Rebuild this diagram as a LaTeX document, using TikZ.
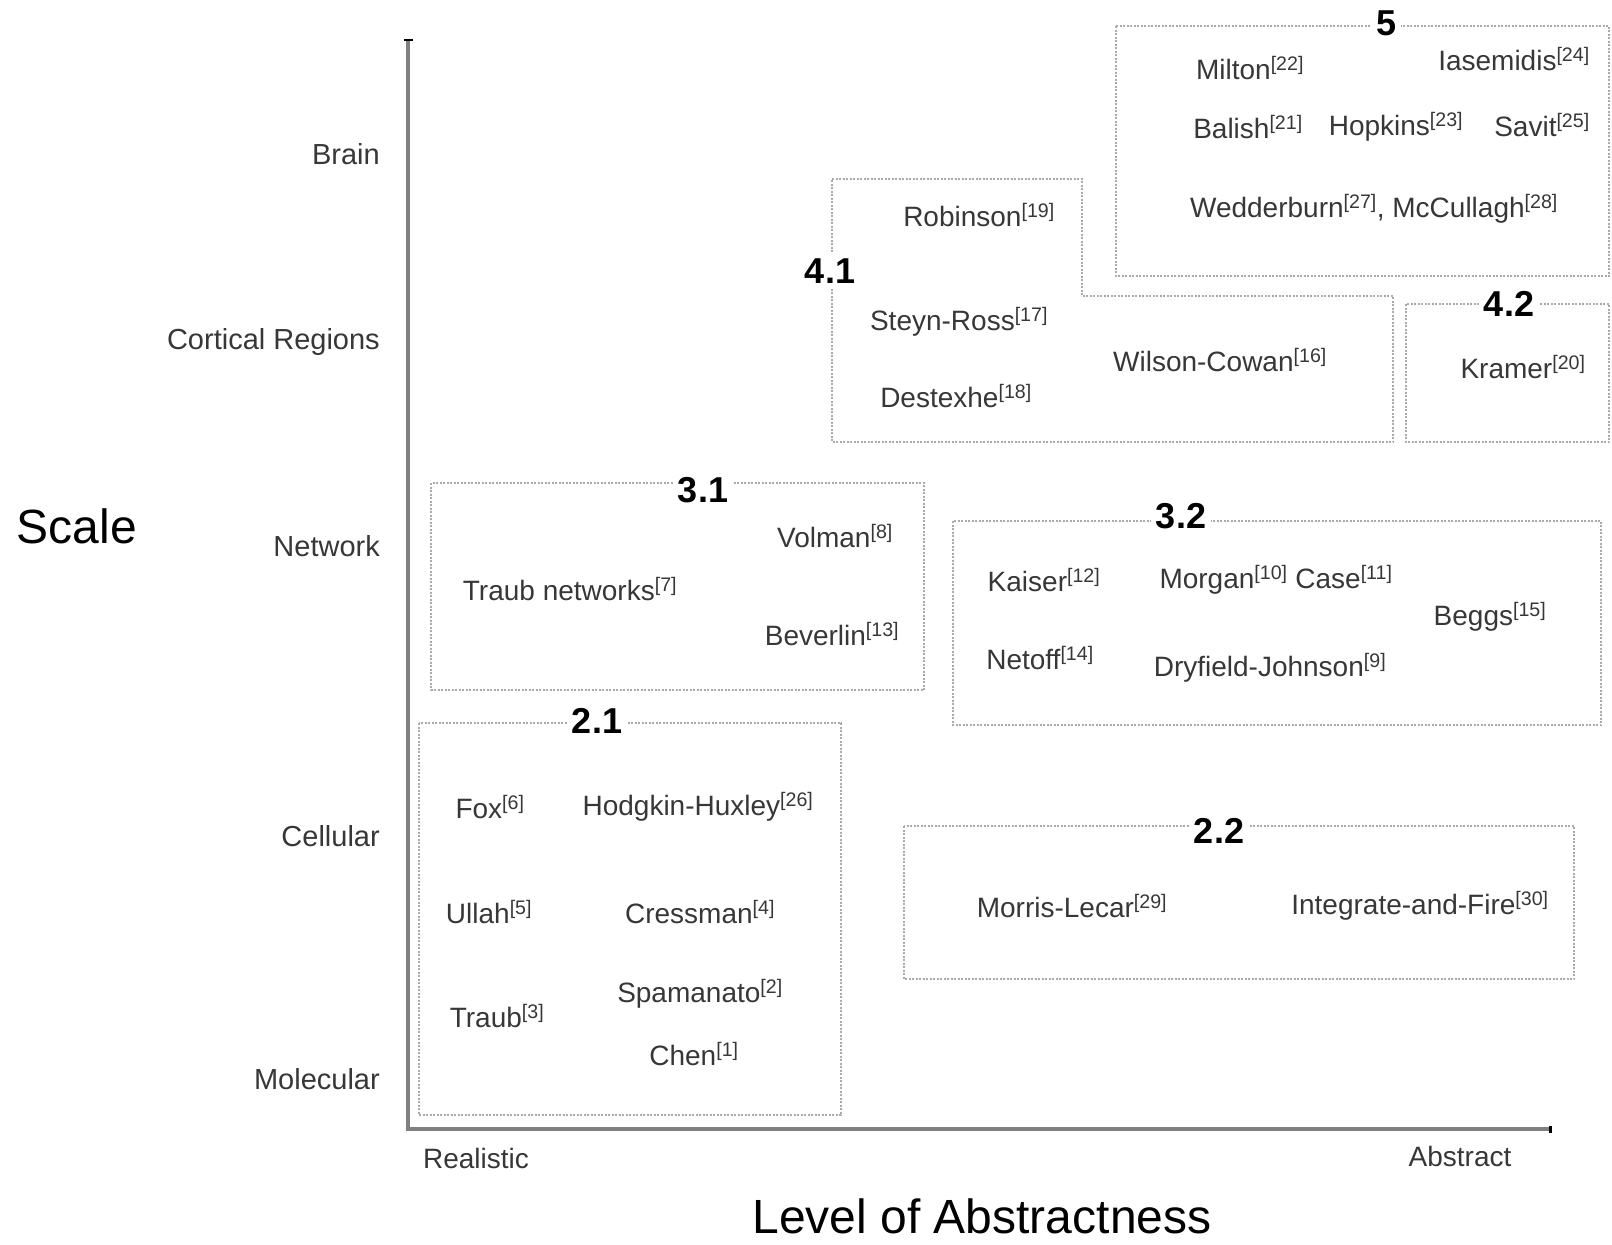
\documentclass[tikz,border=0pt]{standalone}
\usepackage{fontspec}
\setmainfont{Liberation Sans}
\usetikzlibrary{arrows.meta}
\definecolor{axisgray}{RGB}{128,128,128}
\definecolor{boxgray}{RGB}{170,170,170}
\definecolor{textgray}{RGB}{55,55,55}
\newcommand{\citeno}[1]{\textsuperscript{[#1]}}

\begin{document}
\begin{tikzpicture}[x=1pt, y=-1pt,
    lvl/.style={anchor=east, text=textgray, inner sep=0pt, font=\fontsize{29}{30}\selectfont},
    ref/.style={text=textgray, inner sep=0pt, font=\fontsize{28}{30}\selectfont},
    tag/.style={fill=white, inner sep=5pt, font=\bfseries\fontsize{36}{38}\selectfont},
    big/.style={inner sep=0pt, font=\fontsize{48}{50}\selectfont},
    region/.style={draw=boxgray, line width=2pt, dash pattern=on 2pt off 1.5pt},
    axis/.style={draw=axisgray, line width=4pt}]
      \useasboundingbox (0, 0) rectangle (1612, 1245);

      \coordinate (top) at (408, 39);
      \coordinate (origin) at (408, 1129);
      \coordinate (right) at (1552, 1129);
      \draw[axis, {Rectangle[black, length=2pt, width=9pt]}-{Rectangle[black, length=3pt, width=7pt]}] (top) -- (origin) -- (right);

      \node[lvl] (brain) at (380, 154) {Brain};
      \node[lvl] (cortical) at (380, 342) {Cortical Regions};
      \node[lvl] (network) at (380, 546) {Network};
      \node[lvl] (cellular) at (380, 836) {Cellular};
      \node[lvl] (molecular) at (380, 1079) {Molecular};
      \node[big] (scale) at (77, 526) {Scale};
      \node[ref] (realistic) at (476, 1158) {Realistic};
      \node[ref] (abstract) at (1460, 1156) {Abstract};
      \node[big] (abstractness) at (982, 1216) {Level of Abstractness};

      \draw[region] (1116, 26) rectangle (1609, 276);
      \draw[region] (832, 179) -- (1082, 179) -- (1082, 296) -- (1393, 296) -- (1393, 442) -- (832, 442) -- cycle;
      \draw[region] (1406, 304) rectangle (1609, 442);
      \draw[region] (431, 483) rectangle (924, 690);
      \draw[region] (953, 521) rectangle (1601, 725);
      \draw[region] (419, 723) rectangle (841, 1115);
      \draw[region] (904, 826) rectangle (1574, 979);

      \node[tag] (t5) at (1386, 23) {5};
      \node[tag] (t41) at (830, 271) {4.1};
      \node[tag] (t42) at (1509, 304) {4.2};
      \node[tag] (t31) at (703, 490) {3.1};
      \node[tag] (t32) at (1181, 516) {3.2};
      \node[tag] (t21) at (597, 721) {2.1};
      \node[tag] (t22) at (1219, 831) {2.2};

      \node[ref] (milton) at (1250, 68) {Milton\citeno{22}};
      \node[ref] (iasemidis) at (1514, 59) {Iasemidis\citeno{24}};
      \node[ref] (balish) at (1248, 127) {Balish\citeno{21}};
      \node[ref] (hopkins) at (1396, 127) {Hopkins\citeno{23}};
      \node[ref] (savit) at (1542, 125) {Savit\citeno{25}};
      \node[ref] (wedderburn) at (1374, 209) {Wedderburn\citeno{27}, McCullagh\citeno{28}};

      \node[ref] (robinson) at (979, 215) {Robinson\citeno{19}};
      \node[ref] (steynross) at (959, 322) {Steyn-Ross\citeno{17}};
      \node[ref] (wilsoncowan) at (1220, 360) {Wilson-Cowan\citeno{16}};
      \node[ref] (destexhe) at (956, 396) {Destexhe\citeno{18}};
      \node[ref] (kramer) at (1523, 367) {Kramer\citeno{20}};

      \node[ref] (volman) at (835, 536) {Volman\citeno{8}};
      \node[ref] (traubnet) at (570, 589) {Traub networks\citeno{7}};
      \node[ref] (beverlin) at (832, 634) {Beverlin\citeno{13}};

      \node[ref] (kaiser) at (1044, 580) {Kaiser\citeno{12}};
      \node[ref] (morgan) at (1276, 580) {Morgan\citeno{10} Case\citeno{11}};
      \node[ref] (beggs) at (1490, 617) {Beggs\citeno{15}};
      \node[ref] (netoff) at (1040, 658) {Netoff\citeno{14}};
      \node[ref] (dryfield) at (1270, 668) {Dryfield-Johnson\citeno{9}};

      \node[ref] (fox) at (490, 807) {Fox\citeno{6}};
      \node[ref] (hodgkin) at (698, 807) {Hodgkin-Huxley\citeno{26}};
      \node[ref] (ullah) at (489, 912) {Ullah\citeno{5}};
      \node[ref] (cressman) at (700, 912) {Cressman\citeno{4}};
      \node[ref] (traub) at (497, 1016) {Traub\citeno{3}};
      \node[ref] (spamanato) at (700, 994) {Spamanato\citeno{2}};
      \node[ref] (chen) at (694, 1054) {Chen\citeno{1}};

      \node[ref] (morrislecar) at (1072, 906) {Morris-Lecar\citeno{29}};
      \node[ref] (integrate) at (1420, 906) {Integrate-and-Fire\citeno{30}};
    \end{tikzpicture}
\end{document}
